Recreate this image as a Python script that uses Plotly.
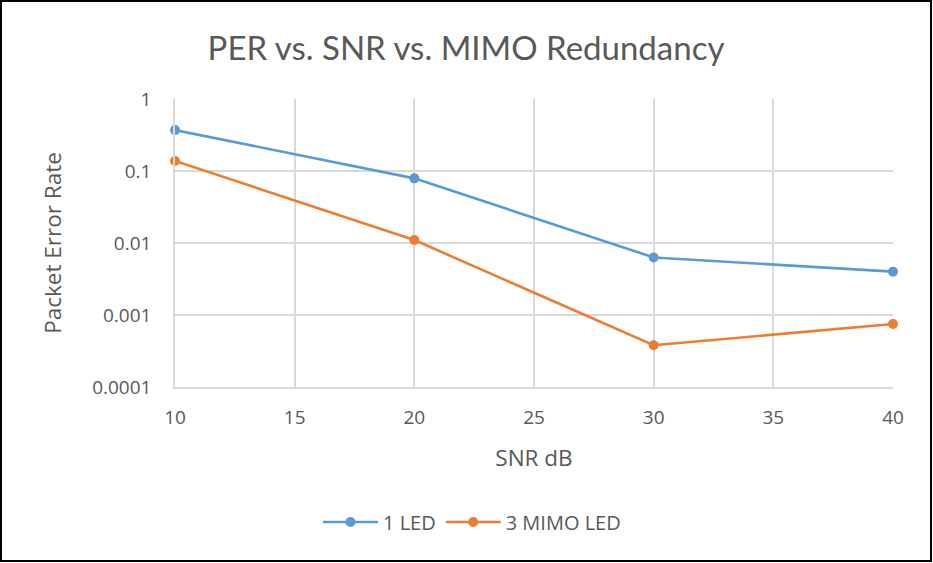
import plotly.graph_objects as go

W, H = 933, 563
L, R, T, B = 175, 40, 99, 176

snr_db = [10, 20, 30, 40]
per_1_led = [0.37, 0.079, 0.0063, 0.0040]
per_3_mimo = [0.138, 0.011, 0.00038, 0.00075]

y_tickvals = [1, 0.1, 0.01, 0.001, 0.0001]
y_ticktext = ["1", "0.1", "0.01", "0.001", "0.0001"]

TEXT = "#595959"
GRID = "#d9d9d9"
FONT = "Open Sans"

fig = go.Figure()
fig.add_trace(go.Scatter(
    x=snr_db, y=per_1_led, name="1 LED", mode="lines+markers", cliponaxis=False,
    legendgroup="one",
    line=dict(color="#5b9bd5", width=2.6), marker=dict(size=10, color="#5b9bd5"),
))
fig.add_trace(go.Scatter(
    x=snr_db, y=per_3_mimo, name="3 MIMO LED", mode="lines+markers", cliponaxis=False,
    legendgroup="three",
    line=dict(color="#ed7d31", width=2.6), marker=dict(size=10, color="#ed7d31"),
))

# black frame round the whole chart
pw, ph = W - L - R, H - T - B
fig.add_shape(
    type="rect", xref="paper", yref="paper",
    x0=(1 - L) / pw, x1=(W - 2 - L) / pw,
    y0=1 + (T - (H - 2)) / ph, y1=1 + (T - 1) / ph,
    line=dict(color="black", width=2), fillcolor="rgba(0,0,0,0)",
)

fig.update_layout(
    width=W, height=H,
    paper_bgcolor="white", plot_bgcolor="white",
    margin=dict(l=L, r=R, t=T, b=B),
    font=dict(family=FONT, color=TEXT, size=19),
    title=dict(text="PER vs. SNR vs. MIMO Redundancy", x=466 / W, xanchor="center",
               y=1 - 48 / H, yanchor="middle", font=dict(size=33, color=TEXT, family="Lato")),
    showlegend=True,
    legend=dict(orientation="h", x=(472 - L) / pw, xanchor="center",
                y=1 - (522 - T) / ph, yanchor="middle", font=dict(size=20, color=TEXT),
                itemwidth=55, tracegroupgap=13),
)
fig.update_xaxes(
    range=[10, 40], dtick=5, tick0=10, showgrid=True, gridcolor=GRID, gridwidth=1.5,
    showline=True, linecolor=GRID, linewidth=1.5, zeroline=False, ticks="",
    ticklabelstandoff=12, tickfont=dict(size=19, color=TEXT),
    title=dict(text="SNR dB", font=dict(size=22.5, color=TEXT), standoff=22),
)
fig.update_yaxes(
    type="log", range=[-4, 0], tickvals=y_tickvals, ticktext=y_ticktext,
    showgrid=True, gridcolor=GRID, gridwidth=1.5, showline=True, linecolor=GRID, linewidth=1.5,
    zeroline=False, ticks="", ticklabelstandoff=18,
    tickfont=dict(size=19, color=TEXT),
    title=dict(text="Packet Error Rate", font=dict(size=22.5, color=TEXT), standoff=24),
)

fig.write_html("out.html", config={"displayModeBar": False},
               post_script="document.body.style.margin = '0';")
